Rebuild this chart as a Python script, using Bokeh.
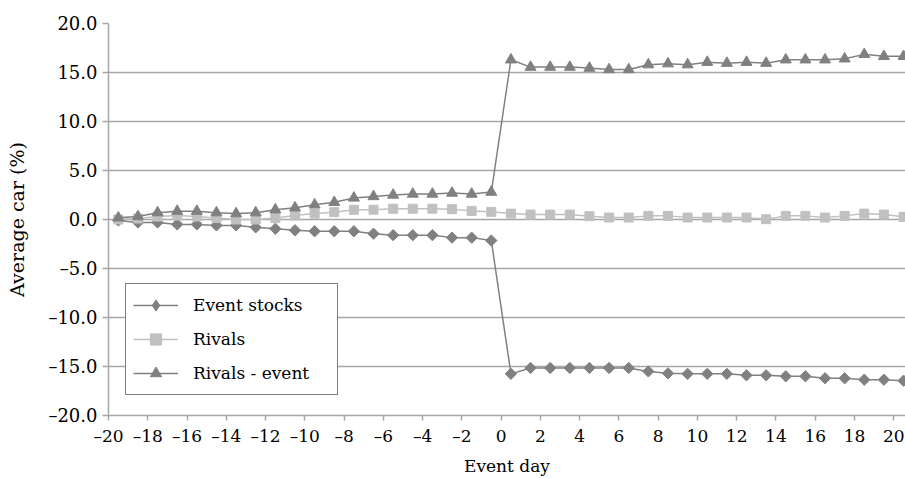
from bokeh.plotting import figure
from bokeh.models import Range1d, FixedTicker, Legend, LegendItem
from bokeh.embed import file_html
from bokeh.resources import INLINE
import numpy as np

# ---------------- data ----------------
days = list(range(-20, 21))

event_stocks = [-0.1, -0.3, -0.3, -0.5, -0.5, -0.6, -0.6, -0.8, -0.95, -1.1,
                -1.2, -1.2, -1.2, -1.45, -1.6, -1.6, -1.6, -1.85, -1.85, -2.15,
                -15.75, -15.15, -15.15, -15.15, -15.15, -15.15, -15.15, -15.5, -15.7, -15.75,
                -15.75, -15.75, -15.9, -15.9, -16.0, -16.0, -16.2, -16.2, -16.35, -16.35,
                -16.45]

rivals = [0.0, 0.1, 0.3, 0.4, 0.3, 0.15, 0.0, 0.0, 0.15, 0.4,
          0.6, 0.75, 1.0, 1.0, 1.1, 1.1, 1.1, 1.05, 0.88, 0.78,
          0.6, 0.5, 0.5, 0.5, 0.34, 0.2, 0.2, 0.37, 0.37, 0.2,
          0.2, 0.2, 0.2, 0.03, 0.37, 0.37, 0.2, 0.37, 0.6, 0.5,
          0.27]

rivals_event = [0.17, 0.3, 0.7, 0.85, 0.85, 0.7, 0.6, 0.7, 1.0, 1.2,
                1.5, 1.75, 2.2, 2.35, 2.5, 2.6, 2.6, 2.7, 2.6, 2.8,
                16.3, 15.55, 15.55, 15.55, 15.45, 15.3, 15.3, 15.8, 15.9, 15.8,
                16.05, 15.95, 16.05, 15.95, 16.3, 16.3, 16.3, 16.4, 16.85, 16.65,
                16.65]

series_names = ["Event stocks", "Rivals", "Rivals - event"]

x_tick_days = list(range(-20, 21, 2))
y_ticks = [-20, -15, -10, -5, 0, 5, 10, 15, 20]

# ---------------- styling ----------------
FONT = "DejaVu Serif"
DARK = "#808080"
LIGHT = "#c0c0c0"
GRID = "#a6a6a6"


def fmt_num(v, decimals):
    s = f"{abs(v):.{decimals}f}"
    return ("\u2013" + s) if v < 0 else s


p = figure(width=905, height=478, output_backend="svg", toolbar_location=None,
           x_range=Range1d(-20.5, 20.1), y_range=Range1d(-20, 20),
           min_border_left=108, min_border_top=23, min_border_bottom=63,
           min_border_right=0)
p.outline_line_color = None
p.background_fill_color = "white"
p.border_fill_color = "white"

# tick labels sit half a category to the left of each day's point
x_tick_pos = [d - 0.5 for d in x_tick_days]
p.xaxis.ticker = FixedTicker(ticks=x_tick_pos)
p.xaxis.major_label_overrides = {pos: fmt_num(d, 0) for pos, d in zip(x_tick_pos, x_tick_days)}
p.yaxis.ticker = FixedTicker(ticks=y_ticks)
p.yaxis.major_label_overrides = {t: fmt_num(t, 1) for t in y_ticks}

for ax in (p.xaxis, p.yaxis):
    ax.axis_line_color = GRID
    ax.axis_line_width = 1.5
    ax.major_tick_line_color = GRID
    ax.major_tick_line_width = 1.5
    ax.major_tick_in = 0
    ax.minor_tick_line_color = None
    ax.major_label_text_font = FONT
    ax.major_label_text_color = "black"
    ax.axis_label_text_font = FONT
    ax.axis_label_text_font_style = "normal"
    ax.axis_label_text_color = "black"

p.xaxis.major_tick_out = 5
p.xaxis.major_label_standoff = 5
p.xaxis.major_label_text_font_size = "17px"
p.xaxis.axis_label = "Event day"
p.xaxis.axis_label_text_font_size = "17px"
p.xaxis.axis_label_standoff = 7

p.yaxis.major_tick_out = 6
p.yaxis.major_label_standoff = 5
p.yaxis.major_label_text_font_size = "18px"
p.yaxis.axis_label = "Average car (%)"
p.yaxis.axis_label_text_font_size = "19px"
p.yaxis.axis_label_standoff = 17

p.xgrid.visible = False
p.ygrid.ticker = FixedTicker(ticks=y_ticks)
p.ygrid.grid_line_color = GRID
p.ygrid.grid_line_width = 1.5

# ---------------- series ----------------
l1 = p.line(days, event_stocks, line_color=DARK, line_width=1.5)
s1 = p.scatter(days, event_stocks, marker="square", angle=np.pi / 4, size=8,
               fill_color=DARK, line_color=DARK)
# legend key for the diamond series (hidden on the plot itself)
k1 = p.scatter(days, event_stocks, marker="diamond", fill_color=DARK, line_color=DARK,
               visible=False)
l2 = p.line(days, rivals, line_color=LIGHT, line_width=1.5)
s2 = p.scatter(days, rivals, marker="square", size=9,
               fill_color=LIGHT, line_color=LIGHT)
l3 = p.line(days, rivals_event, line_color=DARK, line_width=1.5)
s3 = p.scatter(days, rivals_event, marker="triangle", size=11,
               fill_color=DARK, line_color=DARK)

legend = Legend(items=[LegendItem(label=series_names[0], renderers=[l1, k1]),
                       LegendItem(label=series_names[1], renderers=[l2, s2]),
                       LegendItem(label=series_names[2], renderers=[l3, s3])],
                location=(17, 20), margin=0, padding=7, spacing=6,
                border_line_color="black", border_line_width=1,
                background_fill_color="white", background_fill_alpha=1.0,
                label_text_font=FONT, label_text_font_size="17px",
                label_text_color="black",
                glyph_width=45, glyph_height=28, label_height=28,
                label_width=137, label_standoff=15)
p.add_layout(legend)

open("out.html", "w").write(file_html(p, INLINE))
